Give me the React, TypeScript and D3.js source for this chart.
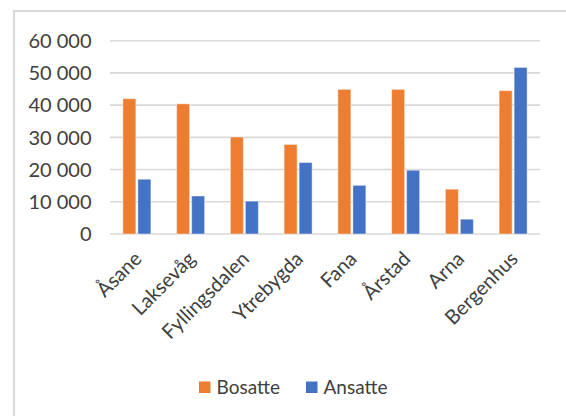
import React from "react";
import * as d3 from "d3";

const districts = ["Åsane", "Laksevåg", "Fyllingsdalen", "Ytrebygda", "Fana", "Årstad", "Arna", "Bergenhus"];
const seriesNames = ["Bosatte", "Ansatte"];
const bosatte = [42000, 40400, 30100, 27800, 44900, 44900, 13900, 44500];
const ansatte = [17000, 11800, 10200, 22200, 15100, 19800, 4600, 51700];
const yTicks = [0, 10000, 20000, 30000, 40000, 50000, 60000];
const seriesColors = ["#ED7D31", "#4472C4"];

const W = 566;
const H = 416;
const FONT = "Lato, 'Open Sans', sans-serif";
const TEXT = "#404040";
const GRID = "#d9d9d9";
const AXIS_FS = 20;
const LEGEND_FS = 19;

const fmt = (v: number) => d3.format(",")(v).replace(/,/g, " ");

export default function App() {
  const x0 = d3.scaleBand<string>().domain(districts).range([110, 540]).paddingInner(0).paddingOuter(0);
  const x1 = d3
    .scaleBand<string>()
    .domain(seriesNames)
    .range([0, x0.bandwidth()])
    .paddingInner(0.133)
    .paddingOuter(0.858);
  const y = d3.scaleLinear().domain([0, 60000]).range([234, 40.7]);

  const values = [bosatte, ansatte];

  return (
    <svg
      width={W}
      height={H}
      style={{ position: "fixed", top: 0, left: 0, background: "#fff" }}
      fontFamily={FONT}
    >
      <rect x={0} y={0} width={W} height={H} fill="#fff" />
      {/* chart frame */}
      <rect x={14} y={11} width={W + 20} height={H + 20} fill="none" stroke={GRID} strokeWidth={2} />

      {/* gridlines and value axis labels */}
      {yTicks.map((t) => (
        <g key={t}>
          <line x1={110} x2={540} y1={y(t)} y2={y(t)} stroke={GRID} strokeWidth={1.6} />
          <text x={91.5} y={y(t)} dy="0.36em" textAnchor="end" fontSize={AXIS_FS} fill={TEXT}>
            {fmt(t)}
          </text>
        </g>
      ))}

      {/* bars */}
      {districts.map((d, i) => (
        <g key={d} transform={`translate(${x0(d)},0)`}>
          {seriesNames.map((s, j) => (
            <rect
              key={s}
              x={x1(s)}
              y={y(values[j][i])}
              width={x1.bandwidth()}
              height={y(0) - y(values[j][i])}
              fill={seriesColors[j]}
              stroke="#fff"
              strokeOpacity={0.45}
              strokeWidth={1}
            />
          ))}
        </g>
      ))}

      {/* category labels */}
      {districts.map((d) => {
        const cx = (x0(d) as number) + x0.bandwidth() / 2;
        return (
          <text
            key={d}
            transform={`translate(${cx + 1},255) rotate(-45)`}
            textAnchor="end"
            dy="0.36em"
            fontSize={AXIS_FS}
            fill={TEXT}
          >
            {d}
          </text>
        );
      })}

      {/* legend */}
      {seriesNames.map((s, j) => {
        const lx = j === 0 ? 199 : 306;
        return (
          <g key={s} transform={`translate(${lx},381.5)`}>
            <rect x={0} y={0} width={11.5} height={11.5} fill={seriesColors[j]} />
            <text x={17.5} y={5.75} dy="0.36em" fontSize={LEGEND_FS} fill={TEXT}>
              {s}
            </text>
          </g>
        );
      })}
    </svg>
  );
}
